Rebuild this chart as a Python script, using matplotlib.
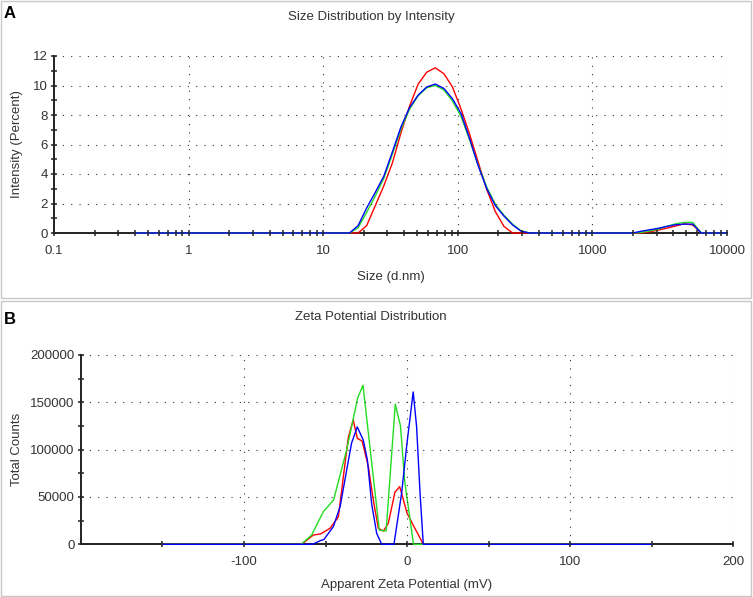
import matplotlib.pyplot as plt
import matplotlib.ticker as ticker
from matplotlib.patches import Rectangle

plt.rcParams['font.family'] = ['Liberation Sans', 'DejaVu Sans']
plt.rcParams['axes.unicode_minus'] = False

# Panel A: size bins (d.nm) and intensity (%) for the three runs
size_nm = [0.4, 0.4632, 0.5365, 0.6213, 0.7195, 0.8332, 0.9649, 1.117, 1.294, 1.499,
           1.736, 2.01, 2.328, 2.696, 3.122, 3.615, 4.187, 4.849, 5.615, 6.503,
           7.531, 8.721, 10.1, 11.7, 13.54, 15.69, 18.17, 21.04, 24.36, 28.21,
           32.67, 37.84, 43.82, 50.75, 58.77, 68.06, 78.82, 91.28, 105.7, 122.4,
           141.8, 164.2, 190.1, 220.2, 255.0, 295.3, 342.0, 396.1, 458.7, 531.2,
           615.1, 712.4, 825.0, 955.4, 1106, 1281, 1484, 1718, 1990, 2305,
           2669, 3091, 3580, 4145, 4801, 5560, 6439, 7456, 8635, 10000]

intensity_red = [0, 0, 0, 0, 0, 0, 0, 0, 0, 0,
                 0, 0, 0, 0, 0, 0, 0, 0, 0, 0,
                 0, 0, 0, 0, 0, 0, 0, 0.5, 1.85, 3.2,
                 4.75, 6.8, 8.6, 10.1, 10.9, 11.2, 10.8, 9.9, 8.4, 6.7,
                 4.8, 2.95, 1.45, 0.45, 0, 0, 0, 0, 0, 0,
                 0, 0, 0, 0, 0, 0, 0, 0, 0, 0,
                 0.08, 0.2, 0.33, 0.47, 0.62, 0.55, 0, 0, 0, 0]

intensity_green = [0, 0, 0, 0, 0, 0, 0, 0, 0, 0,
                   0, 0, 0, 0, 0, 0, 0, 0, 0, 0,
                   0, 0, 0, 0, 0, 0, 0.35, 1.4, 2.5, 3.7,
                   5.35, 7.05, 8.4, 9.3, 9.85, 10.0, 9.7, 8.95, 7.9, 6.3,
                   4.6, 3.1, 1.95, 1.2, 0.6, 0.15, 0, 0, 0, 0,
                   0, 0, 0, 0, 0, 0, 0, 0, 0, 0.04,
                   0.14, 0.27, 0.45, 0.62, 0.72, 0.72, 0, 0, 0, 0]

intensity_blue = [0, 0, 0, 0, 0, 0, 0, 0, 0, 0,
                  0, 0, 0, 0, 0, 0, 0, 0, 0, 0,
                  0, 0, 0, 0, 0, 0, 0.5, 1.7, 2.75, 3.85,
                  5.5, 7.2, 8.5, 9.35, 9.9, 10.1, 9.8, 9.1, 8.1, 6.4,
                  4.55, 3.0, 1.85, 1.15, 0.55, 0.12, 0, 0, 0, 0,
                  0, 0, 0, 0, 0, 0, 0, 0, 0, 0.12,
                  0.22, 0.32, 0.45, 0.56, 0.6, 0.6, 0, 0, 0, 0]

# Panel B: zeta potential (mV) vs total counts
zeta_red_mv = [-150, -64.6, -57.5, -53, -47.2, -42.1, -39, -36, -33, -30.5, -27.5,
               -23.7, -20.7, -17.6, -14.5, -11.5, -7.4, -4.5, -2.2, 0, 3.9, 10, 150]
zeta_red_counts = [0, 0, 9800, 11000, 16900, 29000, 72000, 113000, 131500, 112000, 109000,
                   82000, 47000, 17000, 14000, 22000, 55000, 61000, 47000, 33000, 20000, 0, 0]

zeta_green_mv = [-150, -65, -58.5, -51.3, -45, -37, -30.2, -27, -17, -12.8,
                 -7.2, -4, -1.3, 4, 150]
zeta_green_counts = [0, 0, 9800, 34500, 47000, 100000, 155000, 168000, 15000, 14000,
                     148000, 125000, 65000, 0, 0]

zeta_blue_mv = [-150, -58, -53, -51, -45.2, -41, -37, -34, -30.5, -26.8, -24.3,
                -21.7, -18.6, -15.5, -8, -3.3, 0, 3.8, 5.9, 8, 10, 150]
zeta_blue_counts = [0, 0, 4000, 5000, 18600, 40000, 78500, 107000, 124000, 110000, 89000,
                    43000, 11600, 0, 0, 54000, 107000, 161000, 124000, 54000, 0, 0]

W, H = 753, 597
TEXT = '#333333'


def px_box(x0, y0, x1, y1):
    # pixel box (top-left origin) -> figure fraction rect
    return [x0 / W, 1 - y1 / H, (x1 - x0) / W, (y1 - y0) / H]


def style_axes(ax):
    for s in ['top', 'right']:
        ax.spines[s].set_visible(False)
    for s in ['left', 'bottom']:
        ax.spines[s].set_linewidth(1.4)
        ax.spines[s].set_color('#222222')
        ax.spines[s].set_zorder(1.8)  # data lines sit on top of the axis line
    ax.tick_params(which='both', direction='inout', length=5, width=1.1,
                   color='#222222', labelsize=9.5, labelcolor=TEXT)
    ax.tick_params(axis='x', which='both', pad=6)
    ax.tick_params(axis='y', which='both', pad=2)
    ax.grid(True, which='major', linestyle=(0, (1, 6.5)), linewidth=0.8, color='#333333')
    ax.set_axisbelow(False)


fig = plt.figure(figsize=(W / 100, H / 100), dpi=100)

# panel frames
for y0, y1 in [(1, 298), (301, 596)]:
    fig.patches.append(Rectangle((1 / W, 1 - y1 / H), 750 / W, (y1 - y0) / H,
                                 transform=fig.transFigure, fill=False,
                                 edgecolor='#c8c8c8', linewidth=1))

# SIZE DISTRIBUTION
ax1 = fig.add_axes(px_box(54, 56, 727, 233))
ax1.plot(size_nm, intensity_red, color='#ff0000', linewidth=1.0, zorder=2.1, clip_on=False)
ax1.plot(size_nm, intensity_green, color='#22dd22', linewidth=1.0, zorder=2.1, clip_on=False)
ax1.plot(size_nm, intensity_blue, color='#0000ff', linewidth=1.0, zorder=2.1, clip_on=False)
ax1.set_xscale('log')
ax1.set_xlim(0.1, 10000)
ax1.set_ylim(0, 12)
ax1.xaxis.set_major_locator(ticker.LogLocator(base=10, numticks=10))
ax1.xaxis.set_minor_locator(ticker.LogLocator(base=10, subs=range(2, 10), numticks=10))
ax1.xaxis.set_major_formatter(ticker.FuncFormatter(lambda x, _: f"{x:g}"))
ax1.xaxis.set_minor_formatter(ticker.NullFormatter())
ax1.set_yticks(range(0, 13, 2))
ax1.set_yticks(range(1, 12, 2), minor=True)
style_axes(ax1)
ax1.set_xlabel('Size (d.nm)', fontsize=9.5, color=TEXT, va='center')
ax1.xaxis.set_label_coords(0.5, -0.2486)
ax1.set_ylabel('Intensity (Percent)', fontsize=9.5, color=TEXT, va='center')
ax1.yaxis.set_label_coords(-0.055, 0.5)

# ZETA POTENTIAL
ax2 = fig.add_axes(px_box(81, 355, 733, 544.3))
ax2.plot(zeta_red_mv, zeta_red_counts, color='#ff0000', linewidth=1.0, zorder=2.1, clip_on=False)
ax2.plot(zeta_green_mv, zeta_green_counts, color='#22dd22', linewidth=1.0, zorder=2.1, clip_on=False)
ax2.plot(zeta_blue_mv, zeta_blue_counts, color='#0000ff', linewidth=1.0, zorder=2.1, clip_on=False)
ax2.set_xlim(-200, 200)
ax2.set_ylim(0, 200000)
ax2.set_xticks([-100, 0, 100, 200])
ax2.set_xticks([-150, -50, 50, 150], minor=True)
ax2.set_yticks(range(0, 200001, 50000))
ax2.set_yticks([25000, 75000, 125000, 175000], minor=True)
ax2.yaxis.set_major_formatter(ticker.FuncFormatter(lambda v, _: f"{int(v)}"))
style_axes(ax2)
ax2.set_xlabel('Apparent Zeta Potential (mV)', fontsize=9.5, color=TEXT, va='center')
ax2.xaxis.set_label_coords(0.5, -0.215)
ax2.set_ylabel('Total Counts', fontsize=9.5, color=TEXT, va='center')
ax2.yaxis.set_label_coords(-0.098, 0.5)

# titles and panel letters
fig.text(371 / W, 1 - 17 / H, 'Size Distribution by Intensity', ha='center', va='center',
         fontsize=9.5, color=TEXT)
fig.text(371 / W, 1 - 317 / H, 'Zeta Potential Distribution', ha='center', va='center',
         fontsize=9.5, color=TEXT)
fig.text(9.5 / W, 1 - 14 / H, 'A', ha='center', va='center', fontsize=12, weight='bold')
fig.text(9.5 / W, 1 - 319 / H, 'B', ha='center', va='center', fontsize=12, weight='bold')

plt.savefig('out.png', dpi=100)
plt.close()
